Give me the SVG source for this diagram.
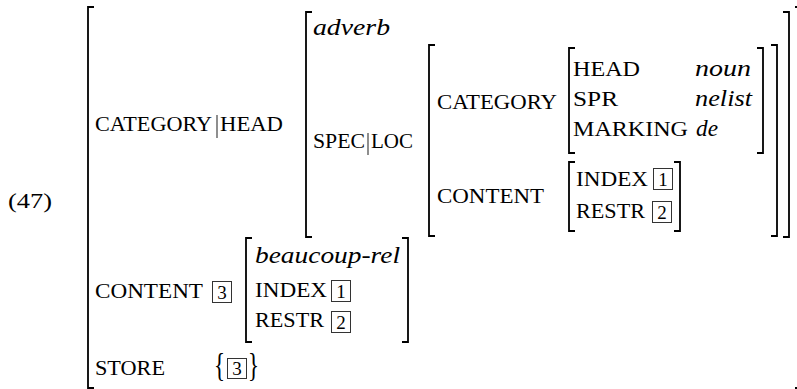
<svg xmlns="http://www.w3.org/2000/svg" width="797" height="389" viewBox="0 0 797 389">
<style>
  .br { fill: none; stroke: #000; stroke-width: 1.8; stroke-linecap: butt; stroke-linejoin: miter; }
  text { font-family: 'Liberation Serif', 'DejaVu Serif', serif; fill: #000; }
  .sc { font-size: 20px; }
  .it { font-style: italic; font-size: 23px; }
  .num { font-size: 21px; }
  .tag { fill: none; stroke: #333; stroke-width: 1; }
  .tagn { font-size: 19px; text-anchor: middle; }
  .bar { stroke: #444; stroke-width: 1.2; }
  .brace { font-size: 33px; }
</style>
<rect width="797" height="389" fill="#fff"/>

<g id="example-number">
  <text class="num" x="8" y="208" textLength="44" lengthAdjust="spacingAndGlyphs">(47)</text>
</g>

<g id="outer-avm">
  <path class="br" d="M94,7 H88 V388 H94"/>
  <path class="br" d="M795,7 H801 V388 H795"/>
  <text class="sc" x="95" y="131" textLength="117" lengthAdjust="spacingAndGlyphs">CATEGORY</text>
  <line class="bar" x1="217" y1="115" x2="217" y2="138"/>
  <text class="sc" x="220" y="131" textLength="63" lengthAdjust="spacingAndGlyphs">HEAD</text>
  <text class="sc" x="95" y="298" textLength="108" lengthAdjust="spacingAndGlyphs">CONTENT</text>
  <rect class="tag" x="212.5" y="281.5" width="19" height="21"/>
  <text class="tagn" x="222" y="299">3</text>
  <text class="sc" x="95" y="375" textLength="70" lengthAdjust="spacingAndGlyphs">STORE</text>
  <text class="brace" x="214" y="376" textLength="11" lengthAdjust="spacingAndGlyphs">{</text>
  <rect class="tag" x="227.5" y="358.5" width="19" height="20"/>
  <text class="tagn" x="237" y="375">3</text>
  <text class="brace" x="248" y="376" textLength="11" lengthAdjust="spacingAndGlyphs">}</text>
</g>

<g id="head-value">
  <path class="br" d="M312,12 H306 V237 H312"/>
  <path class="br" d="M783,12 H789 V237 H783"/>
  <text class="it" x="313" y="34.5" textLength="77" lengthAdjust="spacingAndGlyphs">adverb</text>
  <text class="sc" x="313" y="148" textLength="52" lengthAdjust="spacingAndGlyphs">SPEC</text>
  <line class="bar" x1="368" y1="133" x2="368" y2="155"/>
  <text class="sc" x="371" y="148" textLength="42" lengthAdjust="spacingAndGlyphs">LOC</text>
</g>

<g id="loc-value">
  <path class="br" d="M435,45 H429 V236 H435"/>
  <path class="br" d="M771,45 H777 V236 H771"/>
  <text class="sc" x="437" y="109" textLength="120" lengthAdjust="spacingAndGlyphs">CATEGORY</text>
  <text class="sc" x="437" y="203" textLength="107" lengthAdjust="spacingAndGlyphs">CONTENT</text>
</g>

<g id="category-value">
  <path class="br" d="M575,48 H569 V153 H575"/>
  <path class="br" d="M757,48 H763 V153 H757"/>
  <text class="sc" x="573" y="75.5" textLength="67" lengthAdjust="spacingAndGlyphs">HEAD</text>
  <text class="it" x="695" y="75.5" textLength="56" lengthAdjust="spacingAndGlyphs">noun</text>
  <text class="sc" x="573" y="106" textLength="45" lengthAdjust="spacingAndGlyphs">SPR</text>
  <text class="it" x="695" y="106" textLength="57" lengthAdjust="spacingAndGlyphs">nelist</text>
  <text class="sc" x="573" y="136" textLength="115" lengthAdjust="spacingAndGlyphs">MARKING</text>
  <text class="it" x="696" y="136" textLength="22" lengthAdjust="spacingAndGlyphs">de</text>
</g>

<g id="spec-content-value">
  <path class="br" d="M575,162 H569 V231 H575"/>
  <path class="br" d="M674,162 H680 V231 H674"/>
  <text class="sc" x="576" y="186" textLength="72" lengthAdjust="spacingAndGlyphs">INDEX</text>
  <rect class="tag" x="653.5" y="168.5" width="19" height="21"/>
  <text class="tagn" x="663" y="186">1</text>
  <text class="sc" x="576" y="218" textLength="69" lengthAdjust="spacingAndGlyphs">RESTR</text>
  <rect class="tag" x="652.5" y="201.5" width="19" height="21"/>
  <text class="tagn" x="662" y="219">2</text>
</g>

<g id="content-value">
  <path class="br" d="M252,238 H246 V342 H252"/>
  <path class="br" d="M402,238 H408 V342 H402"/>
  <text class="it" x="255" y="263" textLength="145" lengthAdjust="spacingAndGlyphs">beaucoup-rel</text>
  <text class="sc" x="255" y="297" textLength="72" lengthAdjust="spacingAndGlyphs">INDEX</text>
  <rect class="tag" x="331.5" y="280.5" width="19" height="21"/>
  <text class="tagn" x="341" y="298">1</text>
  <text class="sc" x="255" y="327" textLength="69" lengthAdjust="spacingAndGlyphs">RESTR</text>
  <rect class="tag" x="331.5" y="311.5" width="19" height="21"/>
  <text class="tagn" x="341" y="329">2</text>
</g>
</svg>
